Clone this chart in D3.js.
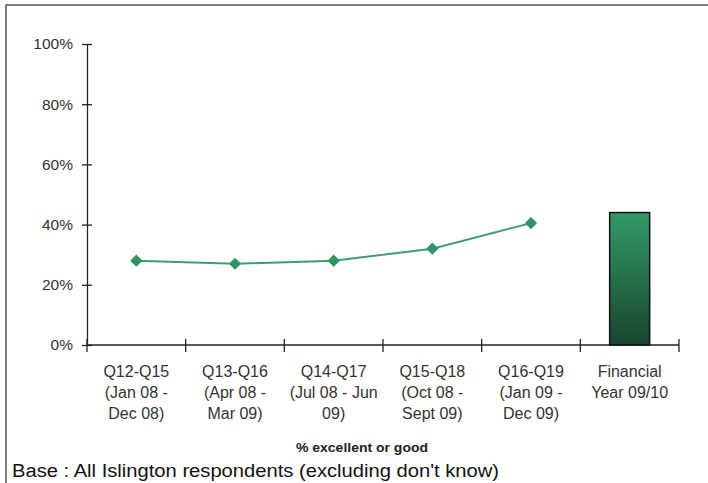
<!DOCTYPE html>
<html><head><meta charset="utf-8">
<script src="https://cdn.jsdelivr.net/npm/d3@7"></script>
<style>body{margin:0;background:#fff}svg{display:block}</style>
</head><body>
<svg id="c" width="708" height="483"></svg>
<script>
const categories = [
  ["Q12-Q15","(Jan 08 -","Dec 08)"],
  ["Q13-Q16","(Apr 08 -","Mar 09)"],
  ["Q14-Q17","(Jul 08 - Jun","09)"],
  ["Q15-Q18","(Oct 08 -","Sept 09)"],
  ["Q16-Q19","(Jan 09 -","Dec 09)"],
  ["Financial","Year 09/10"]
];
const lineValues = [28, 27, 28, 32, 40.5];
const barValues = [44];
const yTicks = [0, 20, 40, 60, 80, 100];
const xTitle = "% excellent or good";
const baseNote = "Base : All Islington respondents (excluding don't know)";

const svg = d3.select("#c");
const m = {left: 87, right: 679, top: 44, bottom: 345};
const x = d3.scaleBand().domain(d3.range(categories.length)).range([m.left, m.right]);
const y = d3.scaleLinear().domain([0, 100]).range([m.bottom, m.top]);

// frame
svg.append("path").attr("d", "M6,483V5H708").attr("fill", "none").attr("stroke", "#555").attr("stroke-width", 1.5);

const defs = svg.append("defs");
const g = defs.append("linearGradient").attr("id", "bg").attr("x1", 0).attr("y1", 0).attr("x2", 0).attr("y2", 1);
g.append("stop").attr("offset", "0%").attr("stop-color", "#319a66");
g.append("stop").attr("offset", "100%").attr("stop-color", "#19452f");

const font = "'Liberation Sans', Arial, sans-serif";

// y axis
const yAxis = svg.append("g").attr("transform", `translate(${m.left},0)`)
  .call(d3.axisLeft(y).tickValues(yTicks).tickFormat(d => d + "%").tickSize(0).tickPadding(14));
yAxis.select(".domain").attr("stroke", "#222").attr("stroke-width", 1.3);
yAxis.selectAll(".tick text").attr("font-family", font).attr("font-size", 15.5).attr("fill", "#333");
yAxis.selectAll(".tick").append("line").attr("x1", -5).attr("x2", 5).attr("stroke", "#222").attr("stroke-width", 1.3);

// x axis
const xa = svg.append("g").attr("transform", `translate(0,${m.bottom})`);
xa.append("line").attr("x1", m.left).attr("x2", m.right).attr("stroke", "#222").attr("stroke-width", 1.3);
const bounds = d3.range(categories.length + 1).map(i => i < categories.length ? x(i) : x(categories.length - 1) + x.bandwidth());
xa.selectAll("line.t").data(bounds).join("line").attr("class", "t")
  .attr("x1", d => d).attr("x2", d => d).attr("y1", -6).attr("y2", 7)
  .attr("stroke", "#222").attr("stroke-width", 1.3);
xa.selectAll("text.c").data(categories).join("text").attr("class", "c")
  .attr("font-family", font).attr("font-size", 16).attr("fill", "#333").attr("text-anchor", "middle")
  .each(function(d, i) {
    const t = d3.select(this);
    d.forEach((s, j) => t.append("tspan").attr("x", x(i) + x.bandwidth() / 2).attr("y", 32 + j * 21).text(s));
  });

// bar
svg.selectAll("rect.bar").data(barValues).join("rect").attr("class", "bar")
  .attr("x", x(5) + x.bandwidth() / 2 - 20).attr("width", 40)
  .attr("y", d => y(d)).attr("height", d => y(0) - y(d))
  .attr("fill", "url(#bg)").attr("stroke", "#111").attr("stroke-width", 1.5);

// line
const cx = i => x(i) + x.bandwidth() / 2;
svg.append("path").datum(lineValues)
  .attr("d", d3.line().x((d, i) => cx(i)).y(d => y(d)))
  .attr("fill", "none").attr("stroke", "#3f9e6e").attr("stroke-width", 2);
svg.selectAll("path.pt").data(lineValues).join("path").attr("class", "pt")
  .attr("d", d3.symbol().type(d3.symbolDiamond2).size(95))
  .attr("transform", (d, i) => `translate(${cx(i)},${y(d)})`)
  .attr("fill", "#2e9462");

svg.append("text").attr("x", 296).attr("y", 452)
  .attr("textLength", 132).attr("lengthAdjust", "spacingAndGlyphs")
  .attr("font-family", font).attr("font-size", 12).attr("font-weight", "bold").attr("fill", "#222").text(xTitle);
svg.append("text").attr("x", 12).attr("y", 477)
  .attr("textLength", 487).attr("lengthAdjust", "spacingAndGlyphs")
  .attr("font-family", font).attr("font-size", 18).attr("fill", "#111").text(baseNote);
</script>
</body></html>
